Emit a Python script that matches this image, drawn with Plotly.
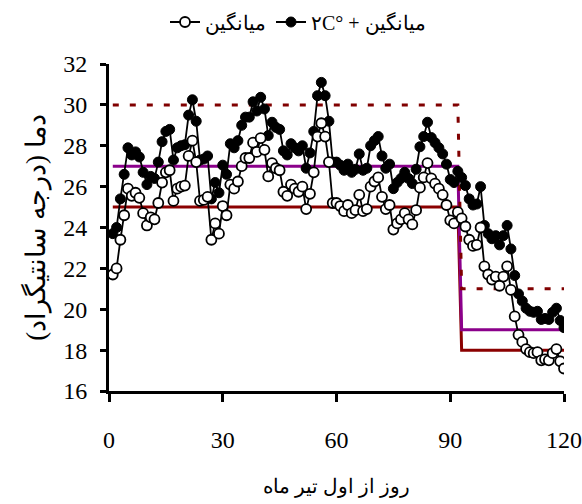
import plotly.graph_objects as go

days = list(range(1, 121))

mean_temp = [21.7, 22.0, 23.4, 24.6, 25.9, 25.55, 25.7, 25.45, 24.7, 24.1,
             24.5, 24.4, 25.2, 26.2, 26.7, 26.8, 25.3, 25.9, 26.0, 26.05,
             27.5, 28.25, 27.2, 25.3, 25.35, 25.5, 23.4, 24.2, 23.7, 25.05,
             24.6, 26.1, 25.9, 26.25, 27.0, 27.4, 27.4, 28.15, 27.7, 28.37,
             27.8, 26.5, 27.15, 26.9, 26.8, 25.75, 25.55, 26.1, 25.9, 25.75,
             26.0, 24.9, 25.65, 26.7, 28.45, 29.1, 28.45, 27.2, 25.2, 25.2,
             25.05, 24.8, 25.1, 24.7, 24.85, 25.6, 24.8, 24.9, 26.0, 26.25,
             26.45, 25.5, 24.9, 25.1, 23.9, 24.2, 24.4, 24.7, 24.4, 24.15,
             24.85, 25.95, 26.45, 27.15, 26.4, 26.15, 25.9, 25.6, 25.1, 24.35,
             24.2, 24.75, 24.45, 24.05, 23.4, 23.1, 23.15, 24.0, 22.1, 21.7,
             21.45, 21.6, 21.15, 21.6, 22.1, 20.95, 19.65, 18.75, 18.4, 18.05,
             17.9, 17.85, 17.9, 17.5, 17.55, 17.5, 17.85, 18.05, 17.45, 17.1]

mean_plus2 = [23.7, 24.0, 25.4, 26.6, 27.9, 27.55, 27.7, 27.45, 26.7, 26.1,
              26.5, 26.4, 27.2, 28.2, 28.7, 28.8, 27.3, 27.9, 28.0, 28.05,
              29.5, 30.25, 29.2, 27.3, 27.35, 27.5, 25.4, 26.2, 25.7, 27.05,
              26.6, 28.1, 27.9, 28.25, 29.0, 29.4, 29.4, 30.15, 29.7, 30.37,
              29.8, 28.5, 29.15, 28.9, 28.8, 27.75, 27.55, 28.1, 27.9, 27.75,
              28.0, 26.9, 27.65, 28.7, 30.45, 31.1, 30.45, 29.2, 27.2, 27.2,
              27.05, 26.8, 27.1, 26.7, 26.85, 27.6, 26.8, 26.9, 28.0, 28.25,
              28.45, 27.5, 26.9, 27.1, 25.9, 26.2, 26.4, 26.7, 26.4, 26.15,
              26.85, 27.95, 28.45, 29.15, 28.4, 28.15, 27.9, 27.6, 27.1, 26.35,
              26.2, 26.75, 26.45, 26.05, 25.4, 25.1, 25.15, 26.0, 24.1, 23.7,
              23.45, 23.6, 23.15, 23.6, 24.1, 22.95, 21.65, 20.75, 20.4, 20.05,
              19.9, 19.85, 19.9, 19.5, 19.55, 19.5, 19.85, 20.05, 19.45, 19.1]

# threshold step lines
step_x = [1, 92, 93, 120]
low_thr = [25, 25, 18, 18]
opt_thr = [27, 27, 19, 19]
high_thr = [30, 30, 21, 21]

x_ticks = [0, 30, 60, 90, 120]
y_ticks = [16, 18, 20, 22, 24, 26, 28, 30, 32]

label_mean = "میانگین"
label_plus = "۲C° + میانگین"
x_title = "روز از اول تیر ماه"
y_title = "دما (درجه سانتیگراد)\u200F"

FONT = "Liberation Serif, DejaVu Serif, serif"

fig = go.Figure()

fig.add_trace(go.Scatter(x=step_x, y=low_thr, mode="lines", showlegend=False,
                         line=dict(color="#8B0000", width=3)))
fig.add_trace(go.Scatter(x=step_x, y=opt_thr, mode="lines", showlegend=False,
                         line=dict(color="#8B008B", width=3)))
fig.add_trace(go.Scatter(x=step_x, y=high_thr, mode="lines", showlegend=False,
                         line=dict(color="#800000", width=3, dash="6px,11px")))

fig.add_trace(go.Scatter(x=days, y=mean_plus2, mode="lines+markers", name=label_plus,
                         legendrank=2,
                         line=dict(color="black", width=1.8),
                         marker=dict(symbol="circle", size=10, color="black",
                                     line=dict(color="black", width=1))))
fig.add_trace(go.Scatter(x=days, y=mean_temp, mode="lines+markers", name=label_mean,
                         legendrank=1,
                         line=dict(color="black", width=1.8),
                         marker=dict(symbol="circle", size=10, color="white",
                                     line=dict(color="black", width=1.8))))

fig.update_layout(
    width=582, height=504,
    margin=dict(l=109, r=18, t=64, b=113, autoexpand=False),
    paper_bgcolor="white", plot_bgcolor="white",
    font=dict(family=FONT, size=22, color="black"),
    showlegend=True,
    legend=dict(orientation="h", xref="container", yref="container",
                x=165 / 582, xanchor="left",
                y=1 - 22 / 504, yanchor="middle",
                font=dict(size=20, family=FONT), bgcolor="rgba(0,0,0,0)",
                itemwidth=30, tracegroupgap=0),
)

fig.update_xaxes(range=[0, 120], tickvals=x_ticks, ticktext=[str(v) for v in x_ticks],
                 automargin=False,
                 showgrid=False, zeroline=False, showline=True, linecolor="black",
                 linewidth=3, ticks="outside", ticklen=8, tickwidth=2.5, tickcolor="black",
                 ticklabelstandoff=17, tickfont=dict(size=24, family=FONT),
                 title=dict(text=x_title, font=dict(size=20, family=FONT), standoff=28))
fig.update_yaxes(range=[16, 32], tickvals=y_ticks, ticktext=[str(v) for v in y_ticks],
                 automargin=False,
                 showgrid=False, zeroline=False, showline=True, linecolor="black",
                 linewidth=3, ticks="outside", ticklen=6, tickwidth=2.5, tickcolor="black",
                 ticklabelstandoff=8, tickfont=dict(size=24, family=FONT),
                 title=dict(text=y_title, font=dict(size=27, family=FONT), standoff=10))

fig.write_html("out.html")
